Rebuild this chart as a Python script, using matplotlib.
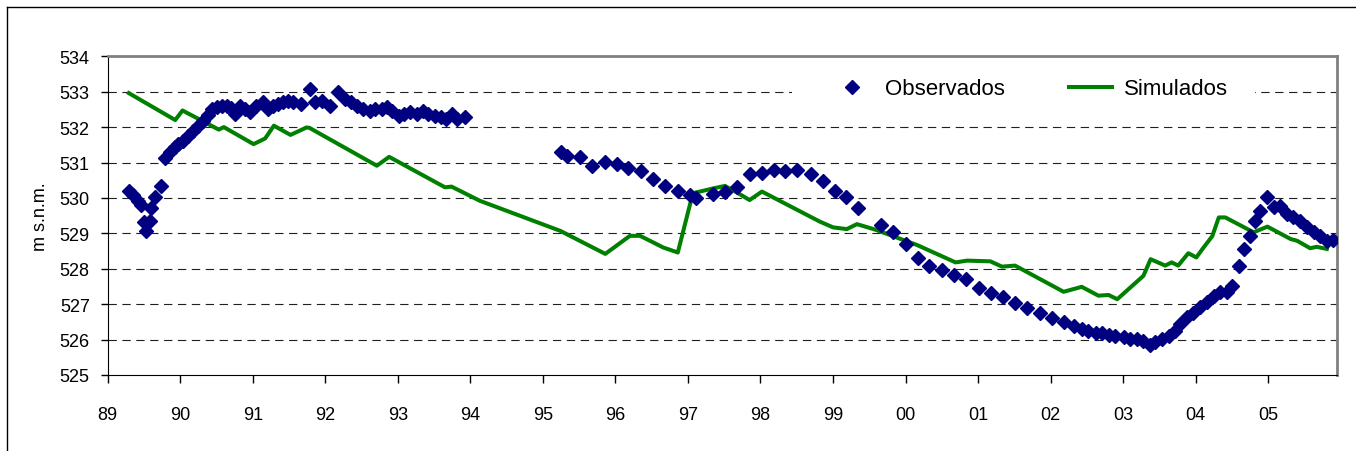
import matplotlib
matplotlib.use("Agg")
import matplotlib.pyplot as plt
from matplotlib.lines import Line2D
from matplotlib.patches import Rectangle

plt.rcParams['font.family'] = ['Liberation Sans', 'DejaVu Sans']

# niveles observados (año decimal, m s.n.m.)
obs_year = [1989.29, 1989.35, 1989.41, 1989.46, 1989.50, 1989.53, 1989.58, 1989.60,
            1989.65, 1989.74, 1989.79, 1989.86, 1989.92, 1989.97, 1990.04, 1990.10,
            1990.17, 1990.24, 1990.31, 1990.38, 1990.44, 1990.50, 1990.57, 1990.64,
            1990.70, 1990.75, 1990.82, 1990.89, 1990.96, 1991.05, 1991.14, 1991.21,
            1991.28, 1991.35, 1991.42, 1991.49, 1991.56, 1991.67, 1991.79, 1991.86,
            1991.95, 1992.06, 1992.18, 1992.27, 1992.36, 1992.43, 1992.52, 1992.62,
            1992.69, 1992.78, 1992.85, 1992.92, 1993.01, 1993.08, 1993.17, 1993.26,
            1993.35, 1993.42, 1993.51, 1993.60, 1993.67, 1993.74, 1993.81, 1993.93,
            1995.25, 1995.33, 1995.51, 1995.68, 1995.86, 1996.02, 1996.18, 1996.35,
            1996.52, 1996.69, 1996.86, 1997.03, 1997.11, 1997.35, 1997.51, 1997.68,
            1997.85, 1998.02, 1998.18, 1998.34, 1998.51, 1998.69, 1998.86, 1999.03,
            1999.18, 1999.34, 1999.66, 1999.83, 2000.01, 2000.17, 2000.33, 2000.50,
            2000.67, 2000.84, 2001.01, 2001.18, 2001.34, 2001.51, 2001.67, 2001.85,
            2002.02, 2002.18, 2002.32, 2002.43, 2002.52, 2002.62, 2002.71, 2002.80,
            2002.89, 2003.01, 2003.10, 2003.19, 2003.28, 2003.37, 2003.44, 2003.54,
            2003.63, 2003.72, 2003.79, 2003.88, 2003.97, 2004.06, 2004.16, 2004.25,
            2004.34, 2004.43, 2004.50, 2004.60, 2004.67, 2004.75, 2004.82, 2004.89,
            2004.99, 2005.08, 2005.17, 2005.26, 2005.35, 2005.44, 2005.53, 2005.63,
            2005.72, 2005.81, 2005.90]
obs_level = [530.20, 530.08, 529.90, 529.80, 529.31, 529.07, 529.36, 529.73,
             530.02, 530.34, 531.12, 531.30, 531.45, 531.52, 531.62, 531.74,
             531.88, 532.02, 532.18, 532.35, 532.50, 532.56, 532.60, 532.60,
             532.55, 532.37, 532.60, 532.52, 532.42, 532.60, 532.70, 532.51,
             532.60, 532.65, 532.70, 532.75, 532.70, 532.65, 533.08, 532.70,
             532.75, 532.60, 532.98, 532.79, 532.70, 532.60, 532.51, 532.46,
             532.51, 532.51, 532.56, 532.46, 532.32, 532.37, 532.42, 532.37,
             532.46, 532.37, 532.32, 532.28, 532.23, 532.37, 532.23, 532.28,
             531.31, 531.18, 531.15, 530.91, 531.02, 530.97, 530.84, 530.75,
             530.53, 530.34, 530.20, 530.07, 530.00, 530.11, 530.16, 530.30,
             530.68, 530.70, 530.80, 530.77, 530.80, 530.68, 530.49, 530.20,
             530.04, 529.73, 529.25, 529.03, 528.70, 528.29, 528.07, 527.96,
             527.82, 527.71, 527.47, 527.31, 527.19, 527.03, 526.88, 526.76,
             526.60, 526.49, 526.39, 526.30, 526.25, 526.20, 526.18, 526.13,
             526.11, 526.06, 526.03, 526.01, 525.97, 525.84, 525.94, 526.01,
             526.11, 526.25, 526.44, 526.63, 526.76, 526.91, 527.05, 527.23,
             527.33, 527.33, 527.52, 528.07, 528.57, 528.93, 529.35, 529.62,
             530.03, 529.75, 529.78, 529.55, 529.45, 529.36, 529.17, 529.03,
             528.93, 528.79, 528.82]

# niveles simulados por el modelo
sim_year = [1989.29, 1989.93, 1990.03, 1990.53, 1990.60, 1991.01, 1991.17, 1991.29,
            1991.52, 1991.74, 1991.78, 1992.71, 1992.88, 1993.65, 1993.74, 1994.13,
            1995.24, 1995.86, 1996.20, 1996.34, 1996.66, 1996.86, 1997.03, 1997.08,
            1997.35, 1997.51, 1997.67, 1997.85, 1998.02, 1998.82, 1999.00, 1999.19,
            1999.33, 1999.56, 1999.63, 2000.16, 2000.69, 2000.85, 2001.17, 2001.33,
            2001.51, 2002.18, 2002.43, 2002.66, 2002.80, 2002.92, 2003.28, 2003.38,
            2003.58, 2003.67, 2003.76, 2003.90, 2004.01, 2004.11, 2004.23, 2004.32,
            2004.41, 2004.80, 2004.99, 2005.31, 2005.40, 2005.58, 2005.67, 2005.81]
sim_level = [532.96, 532.20, 532.47, 531.93, 532.00, 531.52, 531.68, 532.04,
             531.78, 531.99, 531.98, 530.91, 531.16, 530.30, 530.32, 529.92,
             529.07, 528.42, 528.93, 528.93, 528.60, 528.46, 529.83, 530.14,
             530.27, 530.34, 530.16, 529.94, 530.18, 529.33, 529.17, 529.12,
             529.26, 529.12, 529.07, 528.67, 528.18, 528.23, 528.21, 528.06,
             528.09, 527.35, 527.49, 527.24, 527.26, 527.14, 527.80, 528.27,
             528.09, 528.18, 528.09, 528.44, 528.32, 528.60, 528.92, 529.45,
             529.45, 529.03, 529.19, 528.84, 528.79, 528.58, 528.62, 528.56]

years = list(range(1989, 2006))
year_labels = ['89', '90', '91', '92', '93', '94', '95', '96', '97', '98', '99',
               '00', '01', '02', '03', '04', '05']
levels = list(range(525, 535))

W, H = 1356, 452
fig = plt.figure(figsize=(W / 100, H / 100), dpi=100)
ax = fig.add_axes([107.8 / W, 1 - 376 / H, (1337 - 107.8) / W, (376 - 57.3) / H])

ax.set_xlim(1989, 2005.95)
ax.set_ylim(525, 534)

for lv in levels[1:-1]:
    ax.axhline(lv, color='#202020', lw=0.8, ls=(0, (7.5, 5)), zorder=1)

# fondo blanco de la leyenda
ax.add_patch(Rectangle((0.5566, 0.847), 0.3767, 0.094, transform=ax.transAxes,
                       facecolor='white', edgecolor='none', zorder=2))

ax.plot(obs_year, obs_level, ls='none', marker='D', ms=6.8, color='#000080',
        mec='#000080', label='Observados', zorder=4)
ax.plot(sim_year, sim_level, color='#008000', lw=2.9, label='Simulados', zorder=3,
        solid_joinstyle='round')

ax.set_xticks(years)
ax.set_xticklabels(year_labels)
ax.set_yticks(levels)
ax.tick_params(axis='x', direction='out', length=6, width=1, pad=16, labelsize=13)
ax.tick_params(axis='y', direction='out', length=5, width=1, pad=8, labelsize=13)

ax.spines['left'].set_color('black')
ax.spines['bottom'].set_color('black')
ax.spines['top'].set_color('#808080')
ax.spines['right'].set_color('#808080')
ax.spines['top'].set_linewidth(2)
ax.spines['right'].set_linewidth(2)

ax.set_ylabel('m s.n.m.', fontsize=13, labelpad=8)

leg = ax.legend(loc='center left', bbox_to_anchor=(0.5827, 0.8974), ncol=2,
                frameon=False, fontsize=16, handlelength=1.9, handletextpad=0.55,
                columnspacing=2.9, borderpad=0.3, borderaxespad=0)
leg.set_zorder(5)

# marco exterior del gráfico
x0, y0 = 7 / W, 1 - 8 / H
fig.add_artist(Line2D([x0, 1], [y0, y0], color='black', lw=1))
fig.add_artist(Line2D([x0, x0], [0, y0], color='black', lw=1))

fig.savefig('out.png', dpi=100, facecolor='white')
